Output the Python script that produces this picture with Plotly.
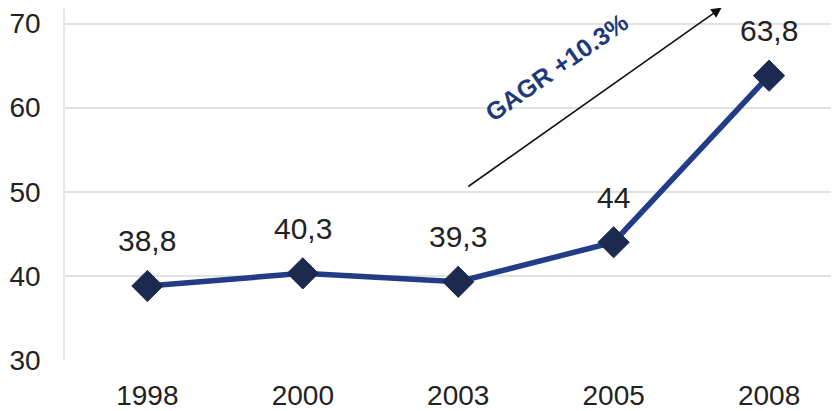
import plotly.graph_objects as go

years = ['1998', '2000', '2003', '2005', '2008']
values = [38.8, 40.3, 39.3, 44.0, 63.8]
labels = ['38,8', '40,3', '39,3', '44', '63,8']

FONT = 'Liberation Sans, Arial'

fig = go.Figure()
fig.add_trace(go.Scatter(
    x=list(range(len(years))), y=values, mode='lines+markers',
    line=dict(color='#213d88', width=5.5),
    marker=dict(symbol='diamond', size=24, color='#1c2a50',
                line=dict(color='#1c2a50', width=1)),
    hoverinfo='skip', showlegend=False))

for i, (v, t) in enumerate(zip(values, labels)):
    fig.add_annotation(x=i, y=v, xref='x', yref='y', text=t, showarrow=False, yshift=45,
                       font=dict(family=FONT, size=30, color='#222222'))

# CAGR arrow
fig.add_annotation(x=3.695, y=71.9, xref='x', yref='y', axref='x', ayref='y',
                   ax=2.055, ay=50.5, text='', showarrow=True, arrowhead=2,
                   arrowsize=1.3, arrowwidth=1.6, arrowcolor='#111111')
fig.add_annotation(x=2.634, y=64.8, xref='x', yref='y', text='<b>GAGR +10.3%</b>',
                   showarrow=False, textangle=-35,
                   font=dict(family=FONT, size=25, color='#1f3a7a'))

fig.update_xaxes(range=[-0.53, 4.45], tickvals=list(range(len(years))), ticktext=years,
                 showgrid=False, zeroline=False, showline=False, automargin=False,
                 ticks='outside', ticklen=10, tickcolor='white', ticklabeloverflow='allow',
                 tickfont=dict(family=FONT, size=28, color='#222222'))
fig.update_yaxes(range=[30, 71.85], tickvals=[30, 40, 50, 60, 70], showgrid=True,
                 gridcolor='#e2e2e2', gridwidth=1.5, zeroline=False, automargin=False,
                 showline=True, linecolor='#e8e8e8', linewidth=1.5,
                 ticks='outside', ticklen=17, tickcolor='white', ticklabeloverflow='allow',
                 tickfont=dict(family=FONT, size=28, color='#222222'))
fig.update_layout(width=831, height=403, plot_bgcolor='white', paper_bgcolor='white',
                  margin=dict(l=57, r=0, t=0, b=51))
fig.write_html('out.html')
